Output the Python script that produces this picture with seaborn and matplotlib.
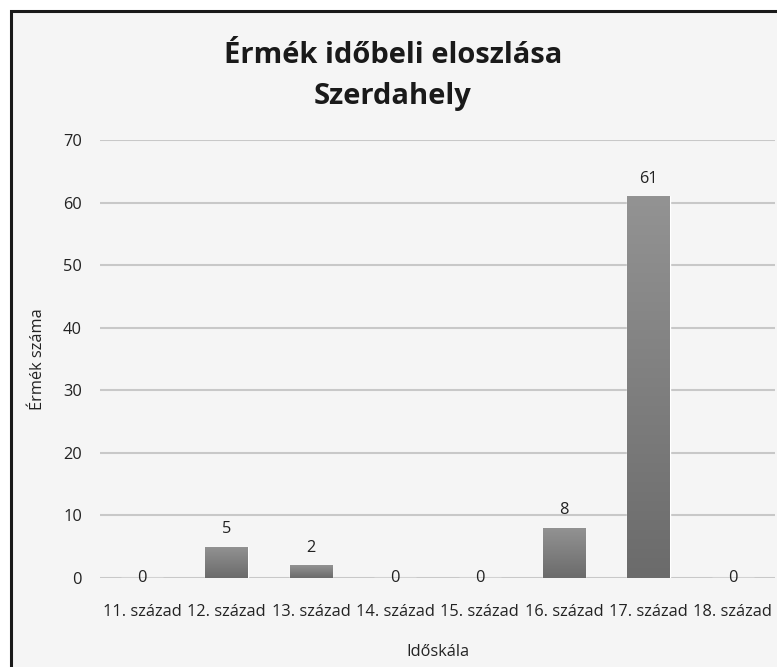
import matplotlib
matplotlib.use("Agg")
import matplotlib.pyplot as plt
import seaborn as sns
import numpy as np
import pandas as pd
from matplotlib.patches import Rectangle
from matplotlib.colors import LinearSegmentedColormap

categories = ["11. század", "12. század", "13. század", "14. század",
              "15. század", "16. század", "17. század", "18. század"]
values = [0, 5, 2, 0, 0, 8, 61, 0]
yticks = [0, 10, 20, 30, 40, 50, 60, 70]

sns.set_theme(style="white")
plt.rcParams['font.family'] = ['Open Sans', 'DejaVu Sans']

BG = "#f5f5f5"
TXT = "#222222"
fig = plt.figure(figsize=(7.77, 6.67), dpi=100, facecolor="white")
# chart frame
fig.patches.append(Rectangle((11/777, -0.05), 1.0, 1 - 11/667 + 0.05,
                             transform=fig.transFigure, facecolor=BG,
                             edgecolor="#1a1a1a", linewidth=2.2, zorder=-5))

ax = fig.add_axes([100/777, 1 - 578/667, 675/777, (578 - 140)/667])
ax.set_zorder(2)
ax.patch.set_alpha(0)

df = pd.DataFrame({"cat": categories, "val": values})
sns.barplot(data=df, x="cat", y="val", color="#858585", width=0.5,
            saturation=1, ax=ax, zorder=3)

# vertical gradient on bars
grad = np.linspace(0, 1, 256).reshape(-1, 1)
cmap = LinearSegmentedColormap.from_list("g", ["#6b6b6b", "#939393"])
for p in ax.patches:
    x0, y0 = p.get_x(), p.get_y()
    w, h = p.get_width(), p.get_height()
    if h <= 0:
        continue
    im = ax.imshow(grad, extent=[x0, x0 + w, y0, y0 + h], origin="lower",
                   cmap=cmap, aspect="auto", zorder=4)
    im.set_clip_path(p)

ax.set_xlim(-0.5, len(categories) - 0.5)
ax.set_ylim(0, 70)
ax.set_yticks(yticks)
ax.yaxis.grid(True, color="#c8c8c8", linewidth=1.5, zorder=1)
ax.set_axisbelow(True)
for s in ax.spines.values():
    s.set_visible(False)
ax.tick_params(axis="both", length=0, labelsize=11.8, colors=TXT)
ax.tick_params(axis="y", pad=13)
ax.tick_params(axis="x", pad=19)

for i, v in enumerate(values):
    if v > 0:
        ax.annotate(str(v), (i, v), xytext=(0, 7),
                    textcoords="offset points", ha="center", va="bottom",
                    fontsize=11.8, color=TXT)
    else:
        ax.annotate(str(v), (i, v), xytext=(0, 0),
                    textcoords="offset points", ha="center", va="center",
                    fontsize=11.8, color=TXT)

ax.set_xlabel("Időskála", fontsize=11.8, color=TXT, labelpad=17)
ax.set_ylabel("Érmék száma", fontsize=11.8, color=TXT, labelpad=12)

fig.text(393/777, 1 - 76/667, "Érmék időbeli eloszlása\nSzerdahely",
         ha="center", va="center", fontsize=21, fontweight="bold",
         color="#1a1a1a", linespacing=1.55)

fig.savefig("out.png", dpi=100, facecolor="white")
